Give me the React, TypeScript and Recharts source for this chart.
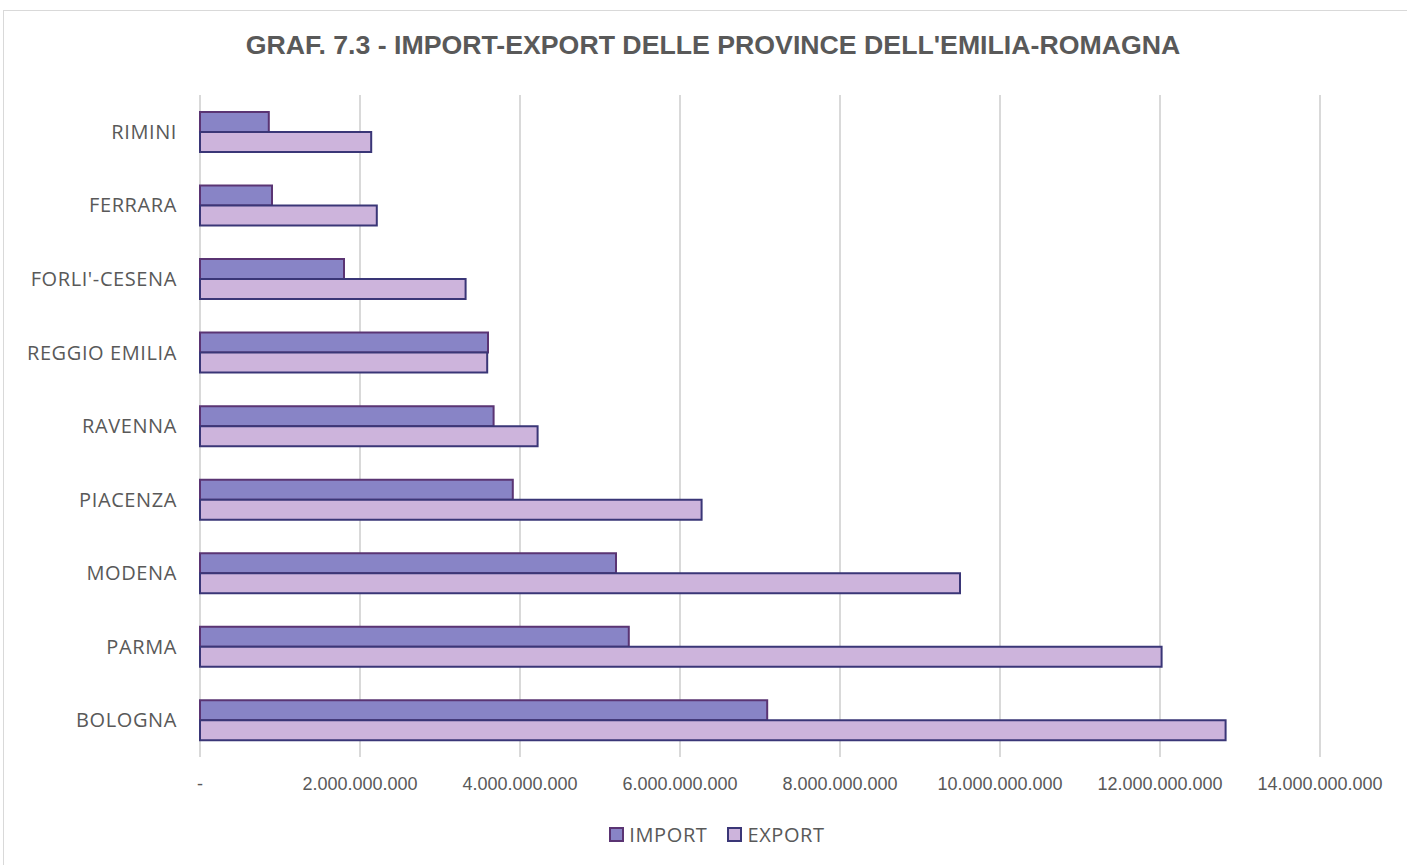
import { BarChart, Bar, XAxis, YAxis, CartesianGrid, Legend } from 'recharts';

const provinces = ['RIMINI', 'FERRARA', "FORLI'-CESENA", 'REGGIO EMILIA', 'RAVENNA', 'PIACENZA', 'MODENA', 'PARMA', 'BOLOGNA'];
const importValues = [0.86e9, 0.9e9, 1.8e9, 3.6e9, 3.67e9, 3.91e9, 5.2e9, 5.36e9, 7.09e9];
const exportValues = [2.14e9, 2.21e9, 3.32e9, 3.59e9, 4.22e9, 6.27e9, 9.5e9, 12.02e9, 12.82e9];
const xTicks = [0, 2e9, 4e9, 6e9, 8e9, 10e9, 12e9, 14e9];

const data = provinces.map((name, i) => ({ name, imp: importValues[i], exp: exportValues[i] }));

const IMPORT_FILL = '#8884c6';
const IMPORT_STROKE = '#5a3473';
const EXPORT_FILL = '#cdb4dc';
const EXPORT_STROKE = '#3a3677';
const TEXT = '#595959';

const fmt = (v: number) => (v === 0 ? '-' : Math.round(v).toString().replace(/\B(?=(\d{3})+(?!\d))/g, '.'));

function LegendContent() {
  const items = [
    { label: 'IMPORT', fill: IMPORT_FILL, stroke: IMPORT_STROKE },
    { label: 'EXPORT', fill: EXPORT_FILL, stroke: EXPORT_STROKE },
  ];
  return (
    <div style={{ display: 'flex', justifyContent: 'center', gap: 20, fontFamily: '"Open Sans", sans-serif', fontSize: 20, letterSpacing: 0.6, color: TEXT }}>
      {items.map((it) => (
        <div key={it.label} style={{ display: 'flex', alignItems: 'center', gap: 5 }}>
          <span style={{ width: 11, height: 11, background: it.fill, border: `2px solid ${it.stroke}`, display: 'inline-block' }} />
          <span>{it.label}</span>
        </div>
      ))}
    </div>
  );
}

export default function App() {
  return (
    <div style={{ position: 'absolute', left: 3, top: 10, width: 1420, height: 870, border: '1px solid #d9d9d9', background: '#fff' }}>
      <div style={{ position: 'absolute', left: 0, width: 1418, top: 19, textAlign: 'center', fontFamily: '"Liberation Sans", Arial, sans-serif', fontWeight: 'bold', fontSize: 26.7, color: TEXT }}>
        GRAF. 7.3 - IMPORT-EXPORT DELLE PROVINCE DELL'EMILIA-ROMAGNA
      </div>
      <BarChart
        width={1400}
        height={850}
        data={data}
        layout="vertical"
        margin={{ top: 84, right: 84, left: 0, bottom: 27 }}
        barCategoryGap="23%"
        barGap={0}
      >
        <CartesianGrid horizontal={false} stroke="#d9d9d9" strokeWidth={2} />
        <XAxis
          type="number"
          domain={[0, 14e9]}
          ticks={xTicks}
          tickFormatter={fmt}
          axisLine={false}
          tickLine={false}
          height={50}
          tickMargin={14}
          tick={{ fontSize: 18, fill: TEXT, fontFamily: '"Liberation Sans", Arial, sans-serif' }}
        />
        <YAxis
          type="category"
          dataKey="name"
          width={196}
          axisLine={false}
          tickLine={false}
          tickMargin={17}
          tick={{ fontSize: 20, letterSpacing: 0.6, fill: TEXT, fontFamily: '"Open Sans", sans-serif' }}
        />
        <Legend verticalAlign="bottom" content={<LegendContent />} wrapperStyle={{ bottom: 13, left: 55 }} />
        <Bar dataKey="imp" name="IMPORT" fill={IMPORT_FILL} stroke={IMPORT_STROKE} strokeWidth={2} isAnimationActive={false} />
        <Bar dataKey="exp" name="EXPORT" fill={EXPORT_FILL} stroke={EXPORT_STROKE} strokeWidth={2} isAnimationActive={false} />
      </BarChart>
    </div>
  );
}
